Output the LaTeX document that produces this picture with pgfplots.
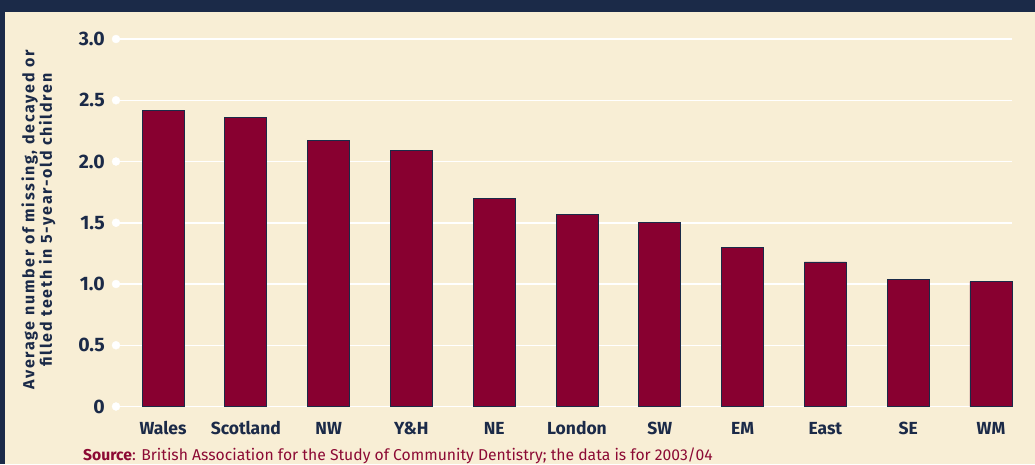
\documentclass[border=0pt]{standalone}
\usepackage{fontspec}
\setmainfont{Fira Sans}
\usepackage{pgfplots}
\pgfplotsset{compat=1.18}
\definecolor{cream}{RGB}{248,238,213}
\definecolor{navy}{RGB}{27,42,72}
\definecolor{crimson}{RGB}{136,0,48}
\definecolor{srcred}{RGB}{140,10,52}
\begin{document}
\begin{tikzpicture}[x=1pt,y=1pt]
\useasboundingbox (0,0) rectangle (1035,464);
\fill[cream] (0,0) rectangle (1035,464);
\fill[navy] (0,452) rectangle (1035,464);
\fill[navy] (0,0) rectangle (5,464);
\begin{axis}[
  at={(116pt,57.5pt)}, anchor=south west, scale only axis,
  width=896pt, height=367.5pt,
  xmin=-0.568, xmax=10.254, ymin=0, ymax=3,
  clip=false,
  axis line style={draw=none},
  major tick length=0pt,
  ytick={0,0.5,1,1.5,2,2.5,3},
  yticklabels={0,0.5,1.0,1.5,2.0,2.5,3.0},
  ymajorgrids, grid style={white, line width=1.5pt},
  xtick={0,1,2,3,4,5,6,7,8,9,10},
  xticklabels={Wales,Scotland,NW,Y\&H,NE,London,SW,EM,East,SE,WM},
  yticklabel style={anchor=east, inner sep=0pt, xshift=-11pt, text=navy, font=\fontsize{19.5}{19.5}\selectfont\bfseries},
  xticklabel style={anchor=base, inner sep=0pt, yshift=-27.5pt, text=navy, font=\fontsize{17.5}{17.5}\selectfont\bfseries},
]
\addplot[only marks, mark=*, mark size=4pt, white, mark options={draw=white, fill=white}]
  coordinates {(-0.568,0) (-0.568,0.5) (-0.568,1) (-0.568,1.5) (-0.568,2) (-0.568,2.5) (-0.568,3)};
\addplot[ybar, bar width=42pt, fill=crimson, draw=navy, line width=0.8pt]
  coordinates {(0,2.42) (1,2.36) (2,2.17) (3,2.09) (4,1.70) (5,1.57) (6,1.50) (7,1.30) (8,1.18) (9,1.04) (10,1.02)};
\end{axis}
\node[rotate=90, align=center, text=navy, inner sep=0pt, font=\fontsize{16}{15}\selectfont\bfseries\addfontfeature{LetterSpace=11}] at (38.5,244)
  {Average number of missing, decayed or\\filled teeth in 5-year-old children};
\node[anchor=base west, inner sep=0pt, text=srcred, font=\fontsize{15.7}{15.7}\selectfont] at (83,4)
  {\textbf{Source}: British Association for the Study of Community Dentistry; the data is for 2003/04};
\end{tikzpicture}
\end{document}
